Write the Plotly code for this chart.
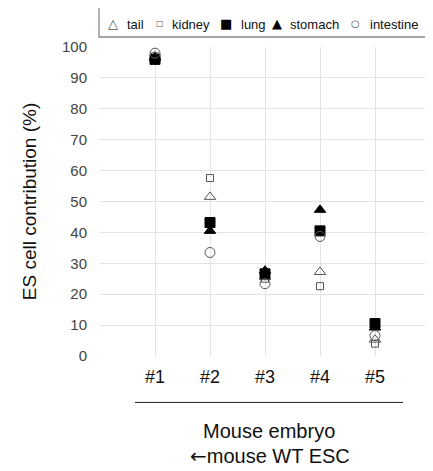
import plotly.graph_objects as go

embryos = ["#1", "#2", "#3", "#4", "#5"]
tail = [97, 51.5, 25.5, 27.2, 5.3]
kidney = [97, 57.6, 25.0, 22.6, 4.0]
lung = [96, 43.2, 26.6, 40.5, 10.5]
stomach = [96.5, 40.5, 27.6, 47.3, 9.2]
intestine = [98, 33.5, 23.4, 38.7, 6.6]

xpos = list(range(1, len(embryos) + 1))
FONT = "Liberation Sans, Arial, Helvetica, sans-serif"
SYMFONT = "DejaVu Sans, sans-serif"

# name, values, plotly symbol, size, colour, legend glyph, glyph size
series = [
    ("tail", tail, "triangle-up-open", 10, "#555555", "△", 13),
    ("kidney", kidney, "square-open", 7, "#555555", "□", 8),
    ("lung", lung, "square", 10, "black", "■", 13),
    ("stomach", stomach, "triangle-up", 10, "black", "▲", 13),
    ("intestine", intestine, "circle-open", 10, "#555555", "○", 10),
]

fig = go.Figure()
for name, vals, sym, size, col, _, _ in series:
    fig.add_trace(go.Scatter(
        x=xpos, y=vals, mode="markers", name=name, showlegend=False,
        marker=dict(symbol=sym, size=size, color=col,
                    line=dict(color=col, width=1)),
    ))

# page body has an 8px margin; work in page pixels and convert
OFF = 8
W, H = 433 - OFF, 471 - OFF
L, R, T, B = 100 - OFF, 430 - OFF, 47 - OFF, 356.5 - OFF
def px(x):
    return (x - OFF - L) / (R - L)
def py(y):
    return (B - (y - OFF)) / (B - T)

# legend (drawn as text in a box)
sym_x = [113, 160, 226, 277, 355]
txt_x = [125, 170, 239, 288, 368]
annotations = []
for (name, _, _, _, col, glyph, gsize), sx, tx in zip(series, sym_x, txt_x):
    annotations.append(dict(text=glyph, xref="paper", yref="paper", x=px(sx), y=py(23),
                            xanchor="center", yanchor="middle", showarrow=False,
                            font=dict(family=SYMFONT, size=gsize, color=col)))
    annotations.append(dict(text=name, xref="paper", yref="paper", x=px(tx), y=py(24),
                            xanchor="left", yanchor="middle", showarrow=False,
                            font=dict(family=FONT, size=13, color="#111111")))

annotations += [
    dict(text="Mouse embryo", xref="paper", yref="paper", x=px(269), y=py(432),
         xanchor="center", yanchor="middle", showarrow=False,
         font=dict(size=20, color="#111111")),
    dict(text='<span style="font-family:DejaVu Sans">←</span>mouse WT ESC',
         xref="paper", yref="paper", x=px(270), y=py(457),
         xanchor="center", yanchor="middle", showarrow=False,
         font=dict(size=20, color="#111111")),
]

fig.update_layout(
    width=W, height=H,
    margin=dict(l=L, r=W - R, t=T, b=H - B, autoexpand=False),
    paper_bgcolor="white", plot_bgcolor="white",
    font=dict(family=FONT, color="#222222"),
    showlegend=False,
    xaxis=dict(range=[0, 6], tickvals=[0, 1, 2, 3, 4, 5, 6],
               ticktext=[""] + embryos + [""],
               showgrid=True, gridcolor="#e3e3e3", gridwidth=1,
               zeroline=False, showline=False, ticks="", automargin=False,
               tickfont=dict(size=18, color="#111111"), ticklabelstandoff=8),
    yaxis=dict(range=[0, 100], tickvals=list(range(0, 101, 10)),
               showgrid=True, gridcolor="#e3e3e3", gridwidth=1,
               zeroline=False, showline=False, ticks="", automargin=False,
               tickfont=dict(size=15, color="#444444"), ticklabelstandoff=12,
               title=dict(text="ES cell contribution (%)", font=dict(size=19, color="#111111"),
                          standoff=20)),
    shapes=[
        dict(type="line", xref="paper", yref="paper", x0=px(135), x1=px(403),
             y0=py(403), y1=py(403), line=dict(color="#222222", width=1)),
        dict(type="rect", xref="paper", yref="paper", x0=px(99), x1=px(427),
             y0=py(37), y1=py(5), line=dict(color="#888888", width=1.3)),
    ],
    annotations=annotations,
)

fig.write_html("out.html")
